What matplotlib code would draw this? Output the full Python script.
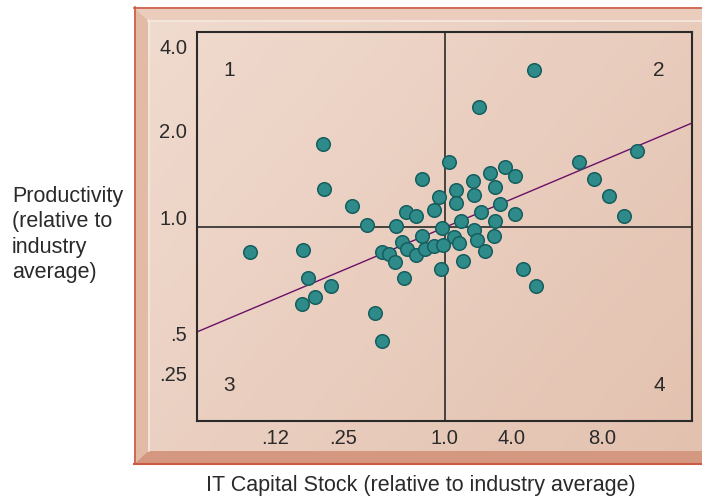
import numpy as np
import matplotlib
matplotlib.use("Agg")
import matplotlib.pyplot as plt
from matplotlib.patches import Polygon
from matplotlib.colors import LinearSegmentedColormap

plt.rcParams["font.family"] = ["Liberation Sans", "DejaVu Sans"]

# ---- data (positions on the chart's own, non-uniform scale, 0..100) ---------
it_capital = [25.5, 25.7, 31.4, 34.3, 10.7, 21.4, 22.5, 27.1, 23.9, 21.2,
              36.0, 37.4, 40.3, 42.2, 44.2, 45.4, 47.9, 48.9, 50.9, 52.3,
              52.3, 55.8, 56.0, 57.3, 59.2, 62.3, 64.3, 60.2, 61.2, 64.2,
              60.2, 53.3, 49.4, 56.0, 60.1, 52.0, 53.0, 56.5, 58.1, 53.7,
              49.3, 45.4, 41.4, 42.5, 44.2, 46.0, 47.8, 49.6, 37.3, 38.8,
              39.9, 41.9, 68.1, 56.9, 77.2, 88.9, 80.3, 83.3, 86.3, 65.8,
              68.5]
productivity = [71.1, 59.6, 55.3, 50.3, 43.4, 44.0, 36.7, 34.6, 32.0, 30.1,
                27.7, 20.6, 50.1, 53.8, 52.6, 62.3, 54.2, 57.5, 66.6, 59.4,
                56.1, 61.6, 58.1, 53.7, 63.8, 65.4, 62.9, 60.2, 55.7, 53.2,
                51.4, 51.5, 49.6, 49.1, 47.6, 47.2, 45.7, 46.5, 43.8, 41.2,
                39.2, 47.6, 46.0, 44.2, 42.6, 44.3, 44.9, 45.2, 43.5, 43.0,
                40.9, 36.8, 90.3, 80.8, 66.6, 69.3, 62.2, 57.8, 52.6, 39.0,
                34.8]
fit_x = [0, 100]
fit_y = [22.9, 76.6]
industry_avg_x = 50
industry_avg_y = 50

x_tick_pos = [15.8, 29.5, 49.9, 63.6, 81.8]
x_tick_labels = [".12", ".25", "1.0", "4.0", "8.0"]
y_tick_pos = [96.4, 74.6, 52.4, 22.6, 12.1]
y_tick_labels = ["4.0", "2.0", "1.0", ".5", ".25"]

quadrants = ["1", "2", "3", "4"]
quad_x = [6.5, 93.3, 6.5, 93.3]
quad_y = [90.2, 90.2, 9.0, 9.0]

W, H = 702, 496
fig = plt.figure(figsize=(W / 100, H / 100), dpi=100, facecolor="white")

# ---- beveled panel -----------------------------------------------------------
bg = fig.add_axes([0, 0, 1, 1], zorder=0)
bg.set_xlim(0, W)
bg.set_ylim(H, 0)
bg.axis("off")

cmap = LinearSegmentedColormap.from_list("panel", ["#f0dbcf", "#e3c1af"])
gx, gy = np.meshgrid(np.linspace(0, 1, 200), np.linspace(0, 1, 200))
bg.imshow(0.6 * gx + 0.4 * gy, cmap=cmap, extent=(148, W, 451, 20),
          aspect="auto", interpolation="bilinear", zorder=1)
bg.add_patch(Polygon([(134, 7), (W, 7), (W, 20), (148, 20)],
                     closed=True, fc="#ebcdbd", ec="none", zorder=2))
bg.add_patch(Polygon([(134, 7), (148, 20), (148, 451), (134, 464)],
                     closed=True, fc="#e2bba7", ec="none", zorder=2))
bg.add_patch(Polygon([(134, 464), (148, 451), (W, 451), (W, 464)],
                     closed=True, fc="#d4977f", ec="none", zorder=2))
bg.plot([148, W], [20.5, 20.5], color="#f6e8df", lw=1.2, zorder=3)
bg.plot([148.5, 148.5], [20, 451], color="#f6e8df", lw=1.2, zorder=3)
bg.plot([134.5, 134.5], [7, 464], color="#cc5a45", lw=1.2, zorder=3)
bg.plot([134, W], [7.5, 7.5], color="#cc5a45", lw=1.2, zorder=3)
bg.plot([134, W], [464, 464], color="#cc5a45", lw=1.5, zorder=3)

# ---- main chart --------------------------------------------------------------
ax = fig.add_axes([197 / W, 1 - 421 / H, 495 / W, 389 / H], zorder=1)
ax.set_facecolor("none")
ax.set_xlim(0, 100)
ax.set_ylim(0, 100)

ax.axvline(industry_avg_x, color="#2a2a2a", lw=1.2, zorder=1)
ax.axhline(industry_avg_y, color="#2a2a2a", lw=1.2, zorder=1)
ax.plot(fit_x, fit_y, color="#6b1068", lw=1.0, zorder=2)
ax.scatter(it_capital, productivity, s=95, color="#2f8a8a",
           edgecolors="#155e5e", linewidths=1.1, zorder=3, clip_on=False)

for q, qx, qy in zip(quadrants, quad_x, quad_y):
    ax.text(qx, qy, q, fontsize=15, color="#2a2a2a", ha="center", va="center")

ax.set_xticks(x_tick_pos)
ax.set_xticklabels(x_tick_labels)
ax.set_yticks(y_tick_pos)
ax.set_yticklabels(y_tick_labels)
ax.tick_params(axis="x", length=0, pad=6, labelsize=14.5, labelcolor="#2a2a2a")
ax.tick_params(axis="y", length=0, pad=7, labelsize=14.5, labelcolor="#2a2a2a")
for sp in ax.spines.values():
    sp.set_color("#2a2a2a")
    sp.set_linewidth(1.5)

fig.text(12 / W, 1 - 234.5 / H,
         "Productivity\n(relative to\nindustry\naverage)",
         fontsize=15.5, color="#2a2a2a", ha="left", va="center", linespacing=1.27)
fig.text(421 / W, 1 - 485 / H, "IT Capital Stock (relative to industry average)",
         fontsize=15.5, color="#2a2a2a", ha="center", va="center")

fig.savefig("out.png", dpi=100, facecolor="white")
